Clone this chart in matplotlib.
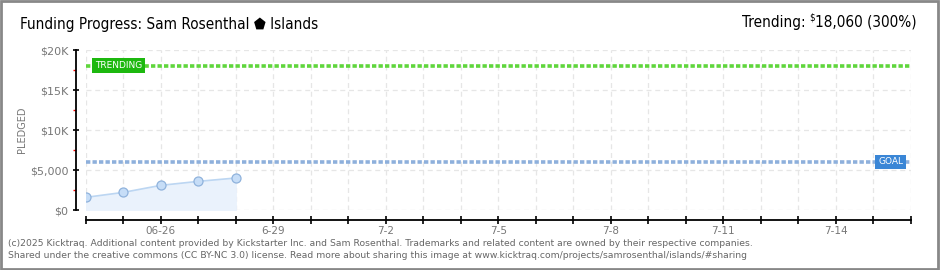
import numpy as np
import matplotlib.pyplot as plt
from matplotlib.patches import Rectangle
from matplotlib.ticker import FixedLocator, FuncFormatter

# donnees du graphique
jours = ["06-24", "06-25", "06-26", "06-27", "06-28"]
pledged = [1580, 2200, 3080, 3580, 4000]
goal = 6000
trending = 18060
n_jours = 23  # 6-24 .. 7-16
tick_labels = {2: "06-26", 5: "6-29", 8: "7-2", 11: "7-5", 14: "7-8", 17: "7-11", 20: "7-14"}
y_ticks = [0, 5000, 10000, 15000, 20000]
y_labels = ["$0", "$5,000", "$10K", "$15K", "$20K"]

gris = "#777777"

fig = plt.figure(figsize=(9.4, 2.7), dpi=100)
ax = fig.add_axes([85.7 / 940, 60 / 270, 825 / 940, 160 / 270])

x = np.arange(len(pledged))

# grille
for i in range(n_jours):
    ax.axvline(i, color="#e6e6e6", lw=0.9, ls=(0, (4, 3)), zorder=0)
for v in y_ticks:
    ax.axhline(v, color="#e6e6e6", lw=0.9, ls=(0, (4, 3)), zorder=0)

# courbe
ax.fill_between(x, 0, pledged, color="#eaf2fc", zorder=1)
ax.plot(x, pledged, color="#bcd6f2", lw=1.2, zorder=2)
ax.plot(x, pledged, "o", ms=6.5, mfc="#c6ddf7", mec="#8fb2dc", mew=0.9, zorder=3)

# lignes objectif / tendance
ax.axhline(goal, color="#8eb0dc", lw=2.6, ls=(0, (1.2, 0.6)), zorder=2)
ax.axhline(trending, color="#5fd63c", lw=2.6, ls=(0, (1.2, 0.6)), zorder=2)

ax.text(0.25, trending, "TRENDING", color="white", fontsize=6.5, va="center", ha="left",
        zorder=5, bbox=dict(boxstyle="square,pad=0.3", fc="#1db80f", ec="none"))
ax.text(21.8, goal, "GOAL", color="white", fontsize=6.5, va="center", ha="right",
        zorder=5, bbox=dict(boxstyle="square,pad=0.3", fc="#3a86d6", ec="none"))

ax.set_xlim(0, n_jours - 1)
ax.set_ylim(0, 20000)

# outward en points (1 px = 0.72 pt a 100 dpi)
for s in ["top", "right"]:
    ax.spines[s].set_visible(False)
ax.spines["left"].set_position(("outward", 6.8))
ax.spines["bottom"].set_position(("outward", 7.2))
ax.spines["left"].set_linewidth(1.3)
ax.spines["bottom"].set_linewidth(1.3)

ax.xaxis.set_major_locator(FixedLocator(range(n_jours)))
ax.xaxis.set_major_formatter(FuncFormatter(lambda v, p: tick_labels.get(int(round(v)), "")))
ax.tick_params(axis="x", direction="inout", length=6, width=1.2, colors="black",
               labelcolor=gris, labelsize=7.5, pad=1)

ax.set_yticks(y_ticks)
ax.set_yticklabels(y_labels)
ax.set_yticks([2500, 7500, 12500, 17500], minor=True)
ax.tick_params(axis="y", which="major", direction="inout", length=5, width=1.2,
               colors="black", labelcolor=gris, labelsize=8, pad=3)
ax.tick_params(axis="y", which="minor", direction="out", length=2.5, width=1, colors="red")

fig.text(22 / 940, 1 - 130 / 270, "PLEDGED", color=gris, fontsize=7, rotation=90,
         va="center", ha="center")

# titres
fig.text(20 / 940, 1 - 24 / 270, "Funding Progress: Sam Rosenthal \u2b1f Islands",
         fontsize=11, va="center", ha="left", fontstretch="condensed")

# "Trending: $18,060 (300%)" avec un petit $ en exposant
renderer = fig.canvas.get_renderer()
t_val = fig.text(917 / 940, 1 - 22 / 270, "18,060 (300%)",
                 fontsize=11, va="center", ha="right", fontstretch="condensed")
x0 = t_val.get_window_extent(renderer).x0
t_dol = fig.text((x0 - 0.5) / 940, 1 - 18 / 270, "$", fontsize=7, va="center", ha="right",
                 fontstretch="condensed")
x1 = t_dol.get_window_extent(renderer).x0
fig.text((x1 - 4) / 940, 1 - 22 / 270, "Trending:", fontsize=11, va="center", ha="right",
         fontstretch="condensed")

fig.text(8 / 940, 1 - 243 / 270,
         "(c)2025 Kicktraq. Additional content provided by Kickstarter Inc. and Sam Rosenthal. "
         "Trademarks and related content are owned by their respective companies.",
         fontsize=6.7, color="#666666", va="center")
fig.text(8 / 940, 1 - 255 / 270,
         "Shared under the creative commons (CC BY-NC 3.0) license. Read more about sharing "
         "this image at www.kicktraq.com/projects/samrosenthal/islands/#sharing",
         fontsize=6.7, color="#666666", va="center")

# cadre
fig.patches.append(Rectangle((0.001, 0.002), 0.997, 0.995, transform=fig.transFigure,
                             fill=False, ec="#888888", lw=2))

fig.savefig("out.png", dpi=100)
